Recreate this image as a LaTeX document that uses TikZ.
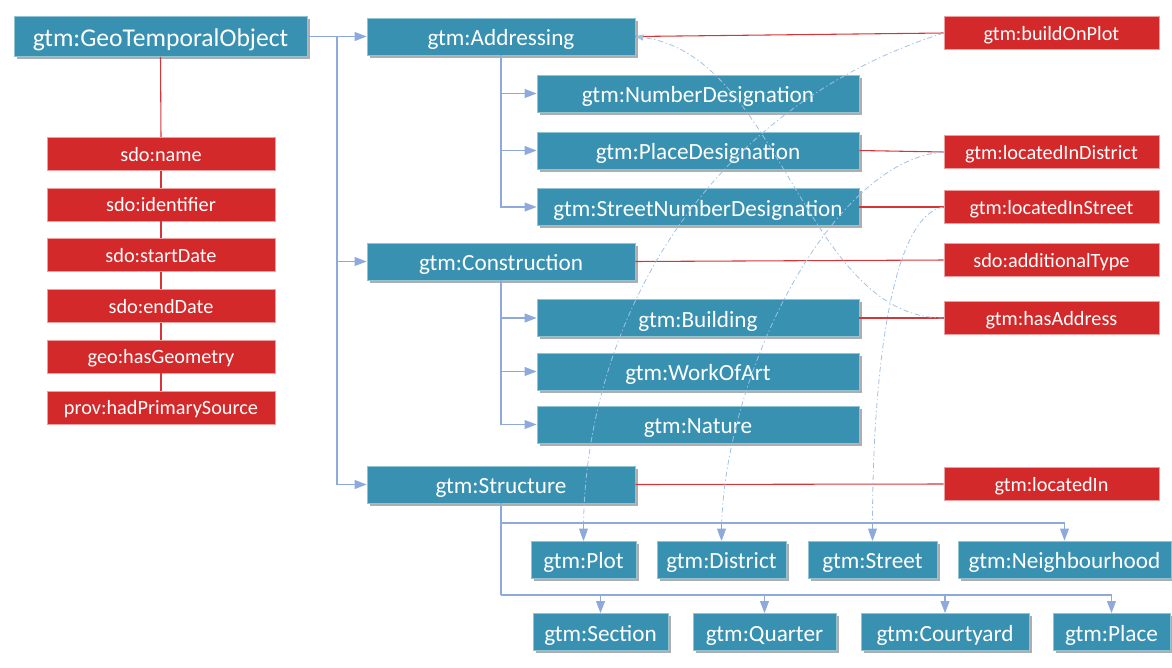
\documentclass[tikz,border=0pt]{standalone}
\usepackage{fontspec}
\setmainfont{Carlito}
\usetikzlibrary{arrows.meta,shadows}

\definecolor{boxblue}{RGB}{57,145,178}
\definecolor{boxred}{RGB}{211,41,42}
\definecolor{isablue}{RGB}{142,169,219}
\definecolor{rangeblue}{RGB}{160,193,228}
\definecolor{propred}{RGB}{214,52,56}

\tikzset{
  cls/.style={draw=boxblue!55!white, line width=0.4pt, fill=boxblue, text=white, inner sep=0pt,
    minimum height=27.75pt, minimum width=#1, font=\fontsize{17.4}{19}\selectfont,
    text height=14.5pt, text depth=0.5pt,
    drop shadow={shadow xshift=2pt, shadow yshift=-2pt, opacity=0.45, fill=black!70}},
  cls/.default=100pt,
  root/.style={cls=219.75pt, minimum height=30pt, font=\fontsize{19.2}{21}\selectfont,
    text height=15.5pt},
  prop/.style={draw=boxred!45!white, line width=0.5pt, fill=boxred, text=white, inner sep=0pt,
    minimum height=24.75pt, minimum width=#1, font=\fontsize{15.2}{17}\selectfont,
    text height=11.5pt, text depth=0.5pt},
  prop/.default=161.25pt,
  isa/.style={draw=isablue, line width=1.2pt, -{Triangle[length=9pt,width=6.5pt]}},
  isaline/.style={draw=isablue, line width=1.2pt},
  propline/.style={draw=propred, line width=0.8pt},
  rangelink/.style={draw=rangeblue, line width=0.6pt, dash pattern=on 4pt off 2pt on 1pt off 2pt,
    -{Triangle[length=6pt,width=4.5pt]}}
}

\begin{document}
\begin{tikzpicture}[x=0.75pt,y=0.75pt,yscale=-1,xscale=1]
\useasboundingbox (0,0) rectangle (1172,668);

% Text Node
\node [root] (geo) at (160.5,36.5) {gtm:GeoTemporalObject};
% Text Node
\node [prop=171pt] (name) at (161,154) {sdo:name};
% Text Node
\node [prop=171pt] (ident) at (161,204.5) {sdo:identifier};
% Text Node
\node [prop=171pt] (start) at (161,255) {sdo:startDate};
% Text Node
\node [prop=171pt] (enddate) at (161,306) {sdo:endDate};
% Text Node
\node [prop=171pt] (geom) at (161,356.5) {geo:hasGeometry};
% Text Node
\node [prop=171pt] (source) at (161,407.5) {prov:hadPrimarySource};

% Text Node
\node [cls=201pt] (addressing) at (501,36.5) {gtm:Addressing};
% Text Node
\node [cls=241.5pt] (numberdes) at (698,93.5) {gtm:NumberDesignation};
% Text Node
\node [cls=241.5pt] (placedes) at (698,150.5) {gtm:PlaceDesignation};
% Text Node
\node [cls=241.5pt] (streetnumdes) at (698,207) {gtm:StreetNumberDesignation};
% Text Node
\node [cls=201pt] (construction) at (501,261.5) {gtm:Construction};
% Text Node
\node [cls=241.5pt] (building) at (698,318) {gtm:Building};
% Text Node
\node [cls=241.5pt] (workofart) at (698,371.5) {gtm:WorkOfArt};
% Text Node
\node [cls=241.5pt] (nature) at (698,424.5) {gtm:Nature};
% Text Node
\node [cls=201pt] (structure) at (501,484.5) {gtm:Structure};

% Text Node
\node [cls=78.75pt] (plot) at (583.5,559.5) {gtm:Plot};
% Text Node
\node [cls=96.75pt] (district) at (721.5,559.5) {gtm:District};
% Text Node
\node [cls=96.75pt] (street) at (872.5,559.5) {gtm:Street};
% Text Node
\node [cls=159.75pt] (neighbourhood) at (1064.5,559.5) {gtm:Neighbourhood};
% Text Node
\node [cls=101.25pt] (section) at (600.5,632) {gtm:Section};
% Text Node
\node [cls=107.25pt] (quarter) at (764.5,632) {gtm:Quarter};
% Text Node
\node [cls=126pt] (courtyard) at (945,632) {gtm:Courtyard};
% Text Node
\node [cls=87.75pt] (place) at (1111.5,632) {gtm:Place};

% Text Node
\node [prop] (buildonplot) at (1051.5,33) {gtm:buildOnPlot};
% Text Node
\node [prop] (indistrict) at (1051.5,152) {gtm:locatedInDistrict};
% Text Node
\node [prop] (instreet) at (1051.5,207) {gtm:locatedInStreet};
% Text Node
\node [prop] (addtype) at (1051.5,260) {sdo:additionalType};
% Text Node
\node [prop] (hasaddress) at (1051.5,318) {gtm:hasAddress};
% Text Node
\node [prop] (locatedin) at (1051.5,484) {gtm:locatedIn};

% Connection
\foreach \a/\b in {geo/name,name/ident,ident/start,start/enddate,enddate/geom,geom/source}
  \draw [propline] (\a.south) -- (\b.north);

% Connection
\foreach \a/\b in {addressing/buildonplot,placedes/indistrict,streetnumdes/instreet,construction/addtype,building/hasaddress,structure/locatedin}
  \draw [propline] (\a.east) -- (\b.west);

% Connection
\draw [rangelink] (buildonplot.west) .. controls (700,110) and (583,330) .. (plot.north);
% Connection
\draw [rangelink] (hasaddress.west) .. controls (805,318) and (780,55) .. (addressing.east);
% Connection
\draw [rangelink] (indistrict.west) .. controls (830,160) and (722,380) .. (district.north);
% Connection
\draw [rangelink] (instreet.west) .. controls (890,215) and (872,380) .. (street.north);

% Connection
\coordinate (trunk) at (337,36.5);
\draw [isa] (geo.east) -- (addressing.west);
\draw [isa] (trunk) |- (construction.west);
\draw [isa] (trunk) |- (structure.west);

% Connection
\foreach \p/\c in {addressing/numberdes,addressing/placedes,addressing/streetnumdes,construction/building,construction/workofart,construction/nature}
  \draw [isa] (\p.south) |- (\c.west);

% Connection
\coordinate (busA) at (501,523);
\coordinate (busB) at (501,595);
\draw [isaline] (structure.south) -- (busB);
\foreach \c in {plot,district,street,neighbourhood}
  \draw [isa] (busA) -| (\c.north);
\foreach \c in {section,quarter,courtyard,place}
  \draw [isa] (busB) -| (\c.north);

\end{tikzpicture}
\end{document}
